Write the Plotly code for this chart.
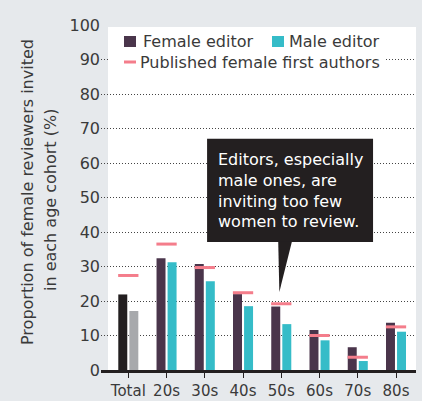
import plotly.graph_objects as go

categories = ["Total", "20s", "30s", "40s", "50s", "60s", "70s", "80s"]
female_editor = [21.9, 32.4, 30.7, 22.0, 18.4, 11.6, 6.6, 13.7]
male_editor = [17.1, 31.2, 25.7, 18.5, 13.3, 8.6, 2.6, 11.1]
published_female_first = [27.4, 36.5, 29.7, 22.4, 19.2, 10.0, 3.7, 12.5]
y_ticks = [0, 10, 20, 30, 40, 50, 60, 70, 80, 90, 100]

FEMALE = "#4a354b"
MALE = "#35bcc8"
TOTAL_F = "#231f20"
TOTAL_M = "#a7a9ac"
PINK = "#f47d8b"
BG = "#e6e9ec"
TXT = "#3a3a3a"
FONT = "DejaVu Sans"

# plot-area geometry (pixels) used to place the legend / titles
W_FIG, H_FIG = 422, 401
ML, MR, MT, MB = 101, 6, 25, 31
PW, PH = W_FIG - ML - MR, H_FIG - MT - MB


def px(xp):
    return (xp - ML) / PW


def py(yp):
    return (H_FIG - MB - yp) / PH


xs = list(range(len(categories)))
W = 0.235
OFF_F = -0.262
OFF_M = 0.027

fig = go.Figure()
fig.add_trace(go.Bar(x=xs[1:], y=female_editor[1:], name="Female editor",
                     marker=dict(color=FEMALE, line=dict(width=0)),
                     width=W, offset=OFF_F))
fig.add_trace(go.Bar(x=xs[1:], y=male_editor[1:], name="Male editor",
                     marker=dict(color=MALE, line=dict(width=0)),
                     width=W, offset=OFF_M))
fig.add_trace(go.Bar(x=xs[:1], y=female_editor[:1], name="Female editor (total)",
                     marker=dict(color=TOTAL_F, line=dict(width=0)),
                     width=W, offset=OFF_F))
fig.add_trace(go.Bar(x=xs[:1], y=male_editor[:1], name="Male editor (total)",
                     marker=dict(color=TOTAL_M, line=dict(width=0)),
                     width=W, offset=OFF_M))
fig.add_trace(go.Scatter(x=xs, y=published_female_first, mode="markers",
                         name="Published female first authors",
                         marker=dict(symbol="line-ew", size=14.5,
                                     line=dict(color=PINK, width=3),
                                     color=PINK)))

# white panel
fig.add_shape(type="rect", xref="paper", yref="paper", x0=px(108), x1=1.0,
              y0=0, y1=py(27), fillcolor="white", line=dict(width=0), layer="below")

# legend (drawn by hand to match the original layout)
fig.add_shape(type="rect", xref="paper", yref="paper", x0=px(108), x1=px(386),
              y0=py(74), y1=py(30), fillcolor="white", line=dict(width=0), layer="above")
fig.add_shape(type="rect", xref="paper", yref="paper", x0=px(124), x1=px(136),
              y0=py(47), y1=py(36), fillcolor=FEMALE, line=dict(width=0), layer="above")
fig.add_shape(type="rect", xref="paper", yref="paper", x0=px(272), x1=px(284),
              y0=py(47), y1=py(36), fillcolor=MALE, line=dict(width=0), layer="above")
fig.add_shape(type="line", xref="paper", yref="paper", x0=px(124), x1=px(136),
              y0=py(62), y1=py(62), line=dict(color=PINK, width=3), layer="above")
for label, xl, yc in [("Female editor", 141, 41.5), ("Male editor", 287, 41.5),
                      ("Published female first authors", 138, 62.5)]:
    fig.add_annotation(x=px(xl), y=py(yc), xref="paper", yref="paper",
                       xanchor="left", yanchor="middle", text=label, showarrow=False,
                       font=dict(family=FONT, size=16, color=TXT))

# callout box + pointer
BOX = "#231f20"
fig.add_shape(type="rect", xref="x", yref="y", x0=2.06, x1=6.40, y0=37.1, y1=67.0,
              fillcolor=BOX, line=dict(width=0), layer="above")
fig.add_shape(type="path", xref="x", yref="y",
              path="M 3.92 37.3 L 4.28 37.3 L 3.95 22.6 Z",
              fillcolor=BOX, line=dict(width=0), layer="above")
fig.add_annotation(x=4.23, y=52.0, xref="x", yref="y", xanchor="center", yanchor="middle",
                   text="Editors, especially<br>male ones, are<br>inviting too few<br>women to review.",
                   align="left", showarrow=False,
                   font=dict(family=FONT, size=16, color="white"))

# y title (two lines)
fig.add_annotation(x=px(27), y=py(192), xref="paper", yref="paper", xanchor="center", yanchor="middle",
                   text="Proportion of female reviewers invited",
                   textangle=-90, showarrow=False,
                   font=dict(family=FONT, size=16, color=TXT))
fig.add_annotation(x=px(50), y=py(200), xref="paper", yref="paper", xanchor="center", yanchor="middle",
                   text="in each age cohort (%)",
                   textangle=-90, showarrow=False,
                   font=dict(family=FONT, size=16, color=TXT))

fig.update_layout(
    template="none",
    width=W_FIG, height=H_FIG,
    margin=dict(l=ML, r=MR, t=MT, b=MB, pad=0),
    paper_bgcolor=BG, plot_bgcolor="rgba(0,0,0,0)",
    barmode="overlay",
    font=dict(family=FONT, size=16, color=TXT),
    showlegend=False,
    hovermode=False,
    xaxis=dict(range=[-0.714, 7.523], tickmode="array", tickvals=xs, ticktext=categories,
               showgrid=False, zeroline=False, showline=True, linewidth=3,
               linecolor="#231f20", ticks="outside", ticklen=5, tickwidth=1,
               tickcolor="#231f20", automargin=False,
               tickfont=dict(family=FONT, size=15, color=TXT)),
    yaxis=dict(range=[0, 100], tickmode="array", tickvals=y_ticks,
               showgrid=True, gridcolor="#444444", gridwidth=1, griddash="1px,2px",
               zeroline=False, showline=False, ticks="", automargin=False,
               tickfont=dict(family=FONT, size=16, color=TXT)),
)

fig.write_html("out.html", config={"displayModeBar": False, "staticPlot": True},
               post_script="document.body.style.margin='0';document.body.style.background='%s';" % BG)
